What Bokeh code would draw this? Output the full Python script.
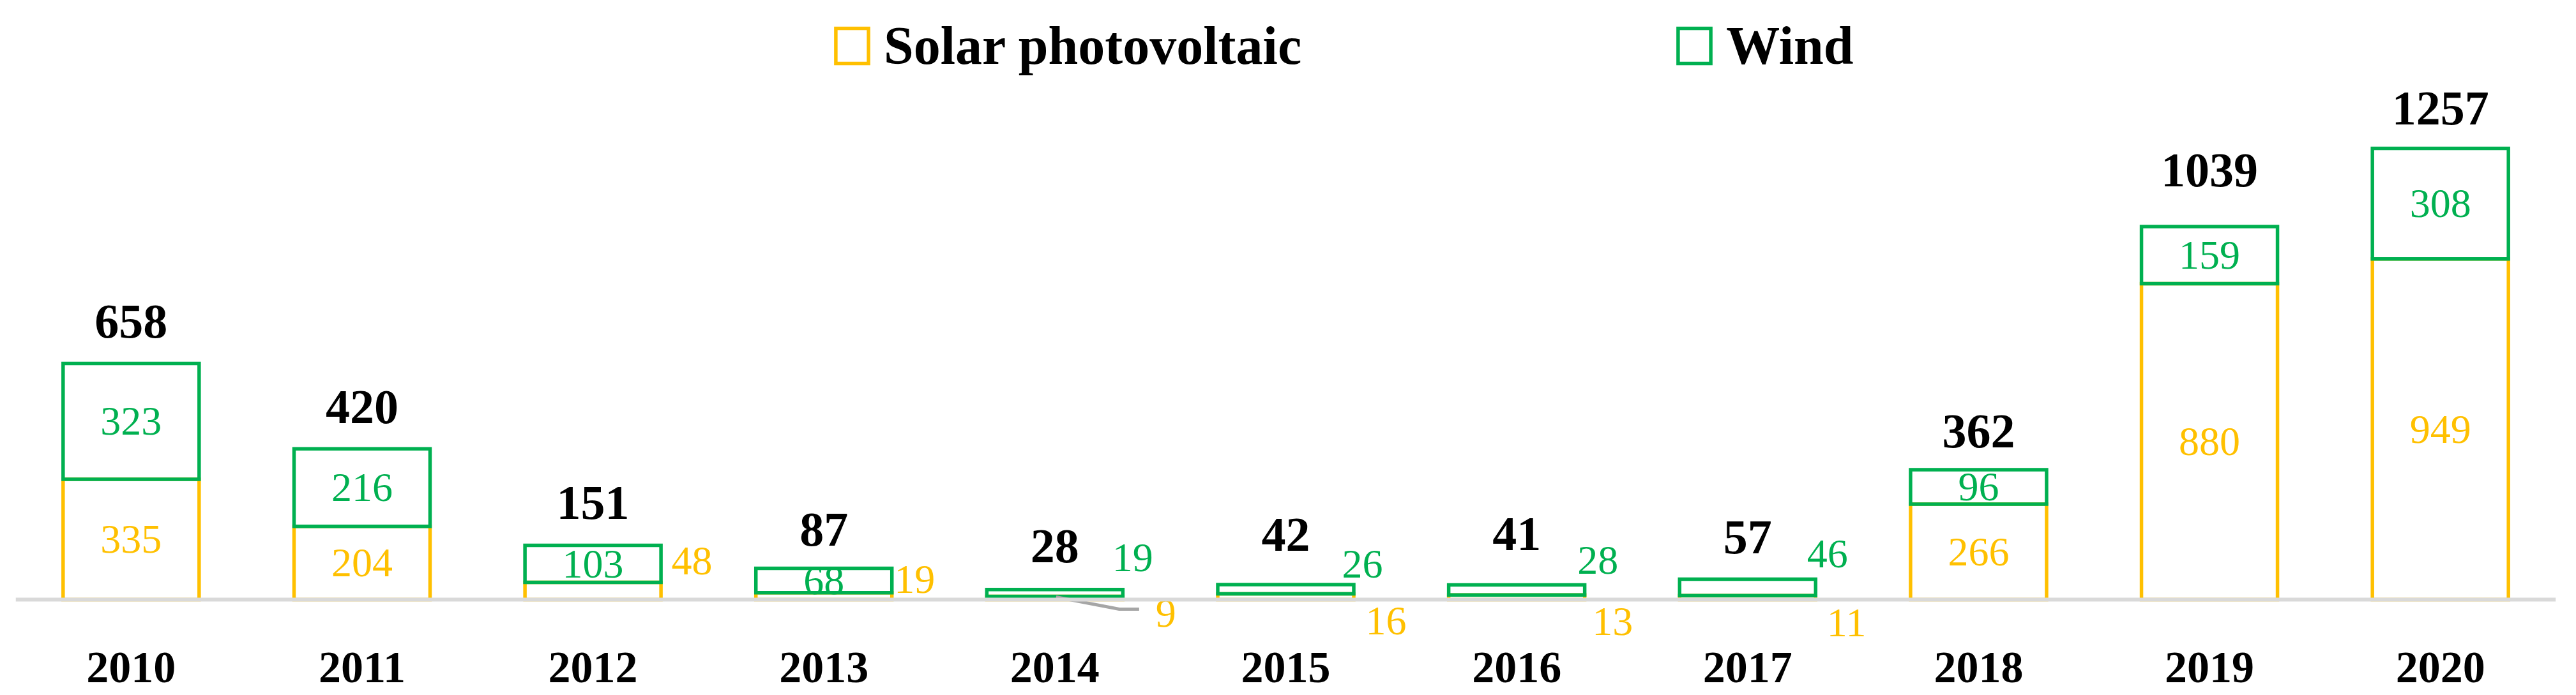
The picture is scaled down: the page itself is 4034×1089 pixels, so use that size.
from bokeh.plotting import figure
from bokeh.models import ColumnDataSource, Range1d, Span, Legend, LegendItem, FixedTicker
from bokeh.embed import file_html
from bokeh.resources import INLINE
from bokeh.core.properties import value

# ---------------- data ----------------
years = ["2010", "2011", "2012", "2013", "2014", "2015", "2016", "2017", "2018", "2019", "2020"]
solar = [335, 204, 48, 19, 9, 16, 13, 11, 266, 880, 949]
wind = [323, 216, 103, 68, 19, 26, 28, 46, 96, 159, 308]
totals = [658, 420, 151, 87, 28, 42, 41, 57, 362, 1039, 1257]

# ---------------- style / layout ----------------
YELLOW = "#FFC000"
GREEN = "#00B050"
AXIS_GRAY = "#D9D9D9"
LEADER_GRAY = "#A6A6A6"
SERIF = "Liberation Serif"

W, H = 4018, 1089
BORDER_L, BORDER_R, BORDER_T, BORDER_B = 24, 16, 8, 71
FRAME_H = H - BORDER_T - BORDER_B
BASELINE_PX = 931          # baseline position from top of frame
PX_PER_UNIT = 0.5625
FRAME_W = W - BORDER_L - BORDER_R
PX_PER_CAT = FRAME_W / 11.0

y_end = BASELINE_PX / PX_PER_UNIT
y_start = -(FRAME_H - BASELINE_PX) / PX_PER_UNIT

BAR_W = 0.589
LINE_W = 5.5

# which labels sit inside their segment
solar_inside = [True, True, False, False, False, False, False, False, True, True, True]
wind_inside = [True, True, True, True, False, False, False, False, True, True, True]
# pixel offsets (left edge dx from category centre, centre dy from baseline) for outside labels
solar_out_off = {2: (123, -61), 3: (110, -32), 4: (158, 21), 5: (125, 33), 6: (118, 34), 7: (124, 36)}
wind_out_off = {4: (90, -66), 5: (88, -56), 6: (95, -62), 7: (93, -72)}
total_gap = [65, 65, 67, 61, 68, 78, 79, 65, 60, 88, 62]

idx = list(range(len(years)))
bottoms_w = solar
tops_w = [s + w for s, w in zip(solar, wind)]

src = ColumnDataSource(dict(x=idx, solar=solar, wb=bottoms_w, wt=tops_w))

p = figure(width=W, height=H, output_backend="svg", toolbar_location=None,
           x_range=Range1d(-0.5, 10.5), y_range=Range1d(y_start, y_end),
           min_border_left=BORDER_L, min_border_right=BORDER_R,
           min_border_top=BORDER_T, min_border_bottom=BORDER_B)
p.outline_line_color = None
p.xgrid.visible = False
p.ygrid.visible = False
p.yaxis.visible = False
p.background_fill_color = "white"

r_solar = p.vbar(x="x", width=BAR_W, bottom=0, top="solar", source=src,
                 fill_color=None, line_color=YELLOW, line_width=LINE_W, line_join="miter")
r_wind = p.vbar(x="x", width=BAR_W, bottom="wb", top="wt", source=src,
                fill_color=None, line_color=GREEN, line_width=LINE_W, line_join="miter")

# baseline
p.add_layout(Span(location=0, dimension="width", line_color=AXIS_GRAY, line_width=6))

# x axis (year labels)
ax = p.xaxis[0]
ax.ticker = FixedTicker(ticks=idx)
ax.major_label_overrides = {i: y for i, y in zip(idx, years)}
ax.axis_line_color = None
ax.major_tick_line_color = None
ax.minor_tick_line_color = None
ax.major_tick_out = 0
ax.major_tick_in = 0
ax.major_label_standoff = 4
ax.major_label_text_font = SERIF
ax.major_label_text_font_style = "bold"
ax.major_label_text_font_size = "70px"
ax.major_label_text_color = "black"

# total labels
tsrc = ColumnDataSource(dict(x=idx, y=totals, t=[str(v) for v in totals], off=[-g for g in total_gap]))
p.text(x="x", y="y", text="t", y_offset="off", source=tsrc, text_align="center", text_baseline="middle",
       text_font=value(SERIF), text_font_style="bold", text_font_size="76px", text_color="black")

# inside labels
si = [i for i in idx if solar_inside[i]]
p.text(x=si, y=[solar[i] / 2 for i in si], text=[str(solar[i]) for i in si],
       text_align="center", text_baseline="middle", text_font=value(SERIF),
       text_font_size="64px", text_color=YELLOW)
wi = [i for i in idx if wind_inside[i]]
p.text(x=wi, y=[solar[i] + wind[i] / 2 for i in wi], text=[str(wind[i]) for i in wi],
       text_align="center", text_baseline="middle", text_font=value(SERIF),
       text_font_size="64px", text_color=GREEN)

# outside labels
so = sorted(solar_out_off)
p.text(x=so, y=[0] * len(so), text=[str(solar[i]) for i in so],
       x_offset=[solar_out_off[i][0] for i in so], y_offset=[solar_out_off[i][1] for i in so],
       text_align="left", text_baseline="middle", text_font=value(SERIF),
       text_font_size="64px", text_color=YELLOW)
wo = sorted(wind_out_off)
p.text(x=wo, y=[0] * len(wo), text=[str(wind[i]) for i in wo],
       x_offset=[wind_out_off[i][0] for i in wo], y_offset=[wind_out_off[i][1] for i in wo],
       text_align="left", text_baseline="middle", text_font=value(SERIF),
       text_font_size="64px", text_color=GREEN)

# leader line for the 2014 solar label (pixel path converted to data space)
lead_px = [(2, -4), (101, 15), (132, 15)]
k = 4
p.line(x=[k + dx / PX_PER_CAT for dx, dy in lead_px], y=[-dy / PX_PER_UNIT for dx, dy in lead_px],
       line_color=LEADER_GRAY, line_width=5)

# legend
legend = Legend(items=[LegendItem(label="Solar photovoltaic", renderers=[r_solar]),
                       LegendItem(label="Wind", renderers=[r_wind])],
                orientation="horizontal", location=(1278, 898),
                glyph_width=64, glyph_height=69, label_standoff=18, spacing=583,
                label_text_font=SERIF, label_text_font_style="bold", label_text_font_size="84px",
                label_text_color="black", border_line_color=None, background_fill_color=None,
                padding=0, margin=0, label_height=69)
p.add_layout(legend, "center")

open("out.html", "w").write(file_html(p, INLINE))
